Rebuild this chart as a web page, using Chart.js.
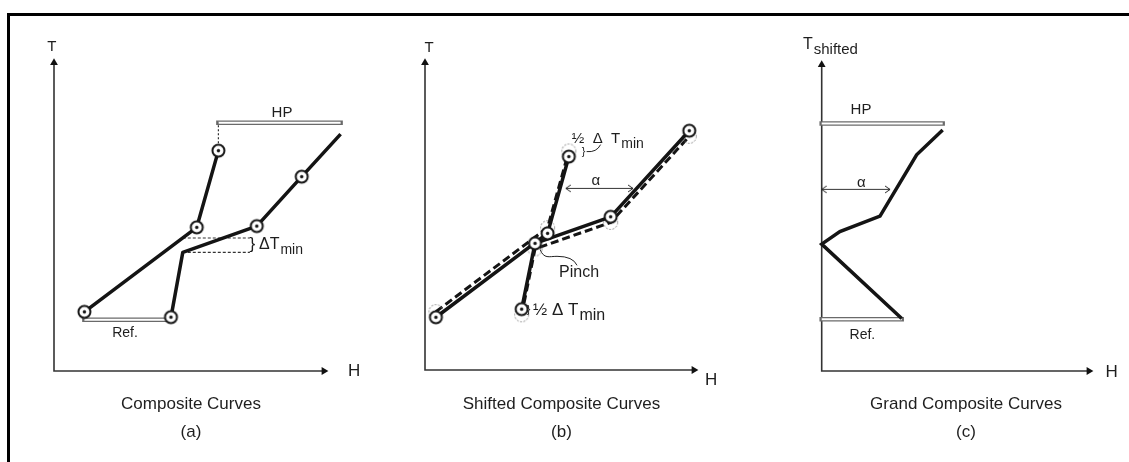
<!DOCTYPE html>
<html>
<head>
<meta charset="utf-8">
<script src="https://cdn.jsdelivr.net/npm/chart.js@4"></script>
<style>
  body { margin: 0; background: #fff; width: 1129px; height: 462px; overflow: hidden; position: relative; }
  .frame { position: absolute; left: 7px; top: 13px; right: 0; bottom: 0; border-top: 3px solid #000; border-left: 3px solid #000; }
  .panel { position: absolute; top: 17px; height: 445px; }
</style>
</head>
<body>
<div class="frame"></div>
<div class="panel" style="left:10px;width:370px"><canvas id="chartA"></canvas></div>
<div class="panel" style="left:390px;width:370px"><canvas id="chartB"></canvas></div>
<div class="panel" style="left:770px;width:359px"><canvas id="chartC"></canvas></div>
<script>
'use strict'

const INK = '#141414';
const FONT = '"Liberation Sans", Arial, Helvetica, sans-serif';
const AXIS_END = 98.5;

// (a) composite curves  (H, T in arbitrary units 0-100)
const hotA_H = [11.1, 52.1, 60.0];
const hotA_T = [18.9, 45.9, 70.4];
const coldA_H = [42.7, 47.0, 74.0, 90.4, 104.6];
const coldA_T = [17.2, 37.9, 46.3, 62.1, 75.7];
const coldA_marked = [true, false, true, true, false];
const hpA_H = [60.0, 104.6];
const hpA_T = 79.3;
const hpLinkA_T = [72.8, 79.3];
const refA_H = [11.1, 42.7];
const refA_T = 16.4;
const dTminA_H = [47.0, 71.5];
const dTminA_T = [37.9, 42.5];

// (b) shifted composite curves
const hotB_H = [4.0, 44.9, 52.7];
const hotB_T = [16.9, 43.8, 68.4];
const hotB_origT = [18.7, 45.6, 70.2];
const coldB_H = [35.4, 40.3, 68.0, 96.8];
const coldB_T = [19.5, 40.6, 49.1, 76.7];
const coldB_origT = [17.7, 38.8, 47.3, 74.9];
const alphaB_H = [51.6, 76.2];
const alphaB_T = 58.2;

// (c) grand composite curve
const gcc_H = [44.6, 35.0, 21.5, 6.7, 0, 29.5];
const gcc_T = [77.5, 69.5, 49.8, 44.8, 40.8, 16.9];
const hpC_H = [0, 44.6];
const hpC_T = 79.6;
const refC_H = [0, 29.5];
const refC_T = 16.6;
const alphaC_H = [0, 25.2];
const alphaC_T = 58.4;

function pts(hs, ts) {
  const n = Array.isArray(hs) ? hs.length : ts.length;
  const out = [];
  for (let i = 0; i < n; i++) {
    out.push({ x: Array.isArray(hs) ? hs[i] : hs, y: Array.isArray(ts) ? ts[i] : ts });
  }
  return out;
}

// circle markers
function marker(dashed) {
  const c = document.createElement('canvas');
  c.width = 17; c.height = 17;
  const g = c.getContext('2d');
  g.beginPath();
  g.arc(8.5, 8.5, dashed ? 7 : 6, 0, Math.PI * 2);
  if (dashed) {
    g.setLineDash([2, 1.5]);
    g.strokeStyle = '#8a8a8a';
    g.lineWidth = 1;
    g.stroke();
  } else {
    g.fillStyle = '#fff';
    g.fill();
    g.strokeStyle = INK;
    g.lineWidth = 2;
    g.stroke();
    g.beginPath();
    g.arc(8.5, 8.5, 1.7, 0, Math.PI * 2);
    g.fillStyle = INK;
    g.fill();
  }
  return c;
}
function chevron() {
  const c = document.createElement('canvas');
  c.width = 14; c.height = 9;
  const g = c.getContext('2d');
  g.strokeStyle = '#222';
  g.lineWidth = 1;
  g.beginPath();
  g.moveTo(2, 1); g.lineTo(7, 4.5); g.lineTo(2, 8);
  g.stroke();
  return c;
}
const solidMark = marker(false);
const dashMark = marker(true);
const arrowHead = chevron();

function curve(hs, ts, extra) {
  return Object.assign({
    data: pts(hs, ts),
    showLine: true,
    borderColor: INK,
    borderWidth: 3.5,
    borderJoinStyle: 'round',
    pointRadius: 0,
    clip: false
  }, extra);
}
// circle markers only, no line
function marks(hs, ts, img, mask) {
  return {
    data: pts(hs, ts),
    showLine: false,
    pointStyle: mask ? c => mask[c.dataIndex] ? img : false : img,
    pointRadius: 7,
    clip: false
  };
}
function bar(hs, t) {
  return [
    curve(hs, t, { borderColor: '#fff', borderWidth: 2, borderCapStyle: 'butt' }),
    curve(hs, t, { borderColor: '#6a6a6a', borderWidth: 4.5, borderCapStyle: 'square' })
  ];
}
function alphaArrow(hs, t) {
  return curve(hs, t, {
    borderColor: '#333', borderWidth: 1,
    pointStyle: arrowHead, pointRadius: 6,
    rotation: c => c.dataIndex === 0 ? 180 : 0
  });
}
function axes() {
  return {
    data: [{ x: 0, y: AXIS_END }, { x: 0, y: 0 }, { x: AXIS_END, y: 0 }],
    showLine: true,
    borderColor: '#333',
    borderWidth: 1.6,
    pointStyle: 'triangle',
    pointRadius: c => c.dataIndex === 1 ? 0 : 4.5,
    rotation: c => c.dataIndex === 2 ? 90 : 0,
    pointBackgroundColor: '#111',
    pointBorderWidth: 0,
    clip: false
  };
}

// text helpers
const px = (chart, h) => chart.scales.x.getPixelForValue(h);
const py = (chart, t) => chart.scales.y.getPixelForValue(t);
function txt(chart, h, t, s, size, o) {
  o = o || {};
  const ctx = chart.ctx;
  const x = px(chart, h), y = py(chart, t);
  ctx.save();
  ctx.fillStyle = '#1e1e1e';
  ctx.textBaseline = 'middle';
  ctx.textAlign = 'left';
  ctx.font = size + 'px ' + FONT;
  const w = ctx.measureText(s).width;
  let subW = 0;
  const subSize = o.subSize || Math.round(size * 0.85);
  if (o.sub) {
    ctx.font = subSize + 'px ' + FONT;
    subW = ctx.measureText(o.sub).width;
  }
  const x0 = o.left ? x : x - (w + subW) / 2;
  ctx.font = size + 'px ' + FONT;
  ctx.fillText(s, x0, y);
  if (o.sub) {
    ctx.font = subSize + 'px ' + FONT;
    ctx.fillText(o.sub, x0 + w + 1, y + size * 0.32);
  }
  ctx.restore();
}

function drawChart(id, datasets, xMax, caption, pad, titleTop, notes) {
  return new Chart(document.getElementById(id), {
    type: 'scatter',
    data: { datasets: datasets },
    options: {
      responsive: true,
      maintainAspectRatio: false,
      animation: false,
      events: [],
      layout: { padding: pad },
      scales: {
        x: { type: 'linear', display: false, min: 0, max: xMax },
        y: { type: 'linear', display: false, min: 0, max: 100 }
      },
      plugins: {
        legend: { display: false },
        tooltip: { enabled: false },
        title: {
          display: true,
          position: 'bottom',
          fullSize: false,
          text: caption,
          color: '#1e1e1e',
          font: { family: FONT, size: 17, weight: 'normal', lineHeight: 28 / 17 },
          padding: { top: titleTop, bottom: 0 }
        }
      }
    },
    plugins: [{ id: 'notes', afterDraw: notes }]
  });
}

// (a)  - first dataset is drawn on top
drawChart('chartA', [
  marks(hotA_H, hotA_T, solidMark),
  marks(coldA_H, coldA_T, solidMark, coldA_marked),
  curve(hotA_H, hotA_T),
  curve(coldA_H, coldA_T),
  curve(dTminA_H, dTminA_T[0], { borderWidth: 1.2, borderDash: [3, 2], borderColor: '#333' }),
  curve(dTminA_H, dTminA_T[1], { borderWidth: 1.2, borderDash: [3, 2], borderColor: '#333' }),
  curve(hotA_H[2], hpLinkA_T, { borderWidth: 1.2, borderDash: [2, 2], borderColor: '#333' }),
  ...bar(hpA_H, hpA_T),
  ...bar(refA_H, refA_T),
  axes()
], 100, ['Composite Curves', '(a)'], { left: 44, top: 41, right: 52, bottom: 16 }, 19, chart => {
  txt(chart, -0.8, 103.6, 'T', 15);
  txt(chart, 109.5, -0.2, 'H', 17);
  txt(chart, 83.2, 82.4, 'HP', 15);
  txt(chart, 25.9, 12.1, 'Ref.', 14);
  txt(chart, 72.4, 40.6, '}', 17);
  txt(chart, 74.8, 40.3, 'ΔT', 16, { sub: 'min', subSize: 14, left: true });
});

// (b)
drawChart('chartB', [
  marks(hotB_H, hotB_T, solidMark),
  marks(coldB_H, coldB_T, solidMark),
  curve(hotB_H, hotB_T),
  curve(coldB_H, coldB_T),
  marks(hotB_H, hotB_origT, dashMark),
  marks(coldB_H, coldB_origT, dashMark),
  curve(hotB_H, hotB_origT, { borderDash: [8, 4], borderWidth: 3 }),
  curve(coldB_H, coldB_origT, { borderDash: [8, 4], borderWidth: 3 }),
  alphaArrow(alphaB_H, alphaB_T),
  axes()
], 100, ['Shifted Composite Curves', '(b)'], { left: 35, top: 41, right: 62, bottom: 16 }, 20, chart => {
  txt(chart, 1.5, 103.2, 'T', 15);
  txt(chart, 104.8, -3.2, 'H', 17);
  txt(chart, 62.6, 60.6, 'α', 15);
  txt(chart, 49.1, 31.1, 'Pinch', 16, { left: true });
  txt(chart, 58.1, 70.0, '}', 11);
  txt(chart, 53.8, 74.0, '½  Δ  T', 15, { sub: 'min', subSize: 14, left: true });
  txt(chart, 37.9, 19.3, '}', 11);
  txt(chart, 39.6, 19.2, '½ Δ T', 17, { sub: 'min', subSize: 16, left: true });

  const ctx = chart.ctx;
  ctx.save();
  ctx.strokeStyle = '#222';
  ctx.lineWidth = 1;
  let x = px(chart, coldB_H[1]), y = py(chart, coldB_T[1]);
  ctx.beginPath();
  ctx.moveTo(x + 5, y + 6);
  ctx.bezierCurveTo(x + 9, y + 16, x + 14, y + 13, x + 22, y + 13);
  ctx.quadraticCurveTo(x + 38, y + 13, x + 42, y + 22);
  ctx.stroke();
  x = px(chart, 58.1); y = py(chart, 70.0);
  ctx.beginPath();
  ctx.moveTo(x + 3, y);
  ctx.quadraticCurveTo(x + 13, y + 1, x + 17, y - 7);
  ctx.stroke();
  ctx.restore();
});

// (c)
drawChart('chartC', [
  curve(gcc_H, gcc_T, { borderJoinStyle: 'miter' }),
  alphaArrow(alphaC_H, alphaC_T),
  ...bar(hpC_H, hpC_T),
  ...bar(refC_H, refC_T),
  axes()
], 106.4, ['Grand Composite Curves', '(c)'], { left: 51.7, top: 43, right: 18.7, bottom: 16 }, 19, chart => {
  txt(chart, -6.9, 104.8, 'T', 16, { sub: 'shifted', subSize: 15, left: true });
  txt(chart, 106.9, -0.5, 'H', 17);
  txt(chart, 14.5, 83.9, 'HP', 15);
  txt(chart, 15.0, 11.6, 'Ref.', 14);
  txt(chart, 14.6, 60.6, 'α', 15);
});
</script>
</body>
</html>
